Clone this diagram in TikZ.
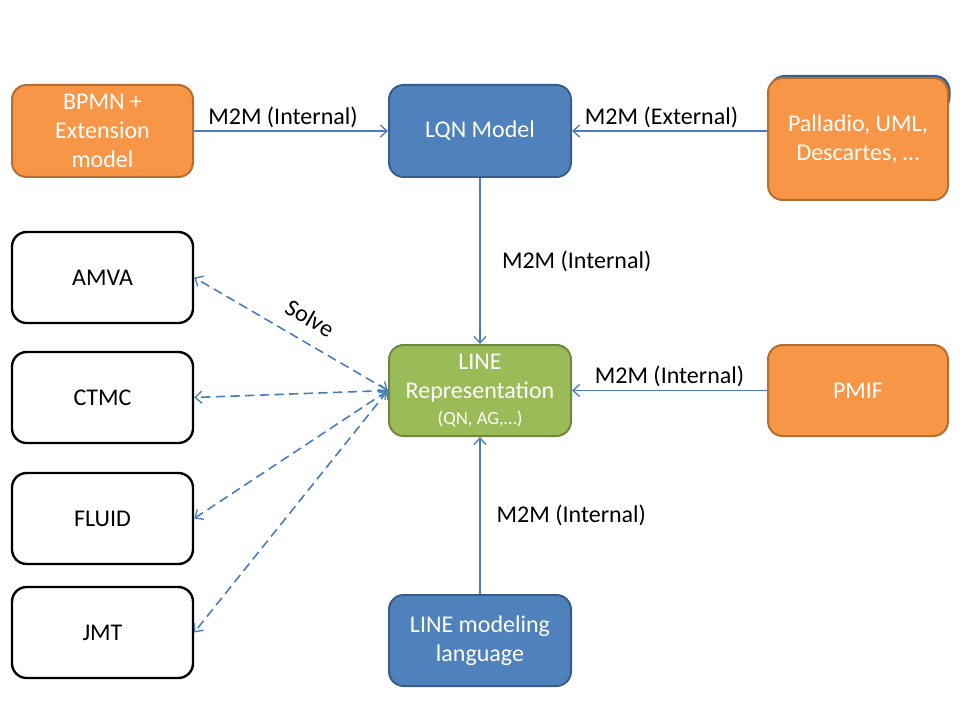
\documentclass[tikz,border=0pt]{standalone}
\usepackage{fontspec}
\setmainfont{Carlito}
\usetikzlibrary{arrows.meta}
\definecolor{orfill}{HTML}{F79646}
\definecolor{ordraw}{HTML}{B66D31}
\definecolor{blfill}{HTML}{4F81BD}
\definecolor{bldraw}{HTML}{385D8A}
\definecolor{grfill}{HTML}{9BBB59}
\definecolor{grdraw}{HTML}{71893F}
\definecolor{arrowblue}{HTML}{4A7EBB}
\tikzset{
  box/.style={rounded corners=11pt, line width=1.5pt, align=center, inner sep=0pt,
    font=\fontsize{18}{22}\selectfont},
  sz/.style 2 args={minimum width=#1*0.75pt, minimum height=#2*0.75pt},
  orangebox/.style={box, fill=orfill, draw=ordraw, text=white},
  bluebox/.style={box, fill=blfill, draw=bldraw, text=white},
  greenbox/.style={box, fill=grfill, draw=grdraw, text=white},
  whitebox/.style={box, fill=white, draw=black, line width=1.8pt, text=black},
  conn/.style={draw=arrowblue, line width=1pt, -{Straight Barb[length=5pt,width=9pt,line width=1pt]}},
  dconn/.style={draw=arrowblue, line width=1.2pt, dash pattern=on 7pt off 4pt,
    {Straight Barb[length=5pt,width=9pt,line width=1pt]}-{Straight Barb[length=5pt,width=9pt,line width=1pt]}},
  lbl/.style={font=\fontsize{18}{22}\selectfont, text=black, inner sep=2pt}
}
\begin{document}
\begin{tikzpicture}[x=0.75pt, y=-0.75pt]
\useasboundingbox (0,0) rectangle (960,720);
% shadow box behind Palladio
\draw[rounded corners=11pt, line width=1.5pt, fill=blfill, draw=bldraw] (770,76) rectangle (949.5,112);
\node[orangebox, sz={180}{122}] (pall) at (858,139) {Palladio, UML,\\Descartes, \dots};
\node[orangebox, sz={181}{92}] (bpmn) at (102.5,131) {BPMN +\\Extension\\model};
\node[bluebox, sz={182}{92}] (lqn) at (480,131) {LQN Model};
\node[whitebox, sz={181}{91}] (amva) at (102.5,277.5) {AMVA};
\node[whitebox, sz={181}{91}] (ctmc) at (102.5,397.5) {CTMC};
\node[whitebox, sz={181}{91}] (fluid) at (102.5,518.5) {FLUID};
\node[whitebox, sz={181}{91}] (jmt) at (102.5,632.5) {JMT};
\node[greenbox, sz={182}{91}] (line) at (480,390.5) {LINE\\Representation\\[-3pt]{\fontsize{14}{16}\selectfont(QN, AG,\dots)}};
\node[orangebox, sz={180}{91}] (pmif) at (858,390.5) {PMIF};
\node[bluebox, sz={182}{91}] (lml) at (480,640.5) {LINE modeling\\language};

\draw[conn] (bpmn.east) -- node[lbl, above, xshift=-6pt] {M2M (Internal)} (lqn.west);
\draw[conn] (lqn.east -| pall.west) -- node[lbl, above, xshift=-6pt] {M2M (External)} (lqn.east);
\draw[conn] (lqn.south) -- node[lbl, right, xshift=14pt] {M2M (Internal)} (line.north);
\draw[conn] (pmif.west) -- node[lbl, above] {M2M (Internal)} (line.east);
\draw[conn] (lml.north) -- node[lbl, right, xshift=10pt] {M2M (Internal)} (line.south);

\draw[dconn] (line.west) -- (amva.east);
\draw[dconn] (line.west) -- (ctmc.east);
\draw[dconn] (line.west) -- (fluid.east);
\draw[dconn] (line.west) -- (jmt.east);
\node[lbl, rotate=-30] (solve) at (310,318) {Solve};
\end{tikzpicture}
\end{document}
